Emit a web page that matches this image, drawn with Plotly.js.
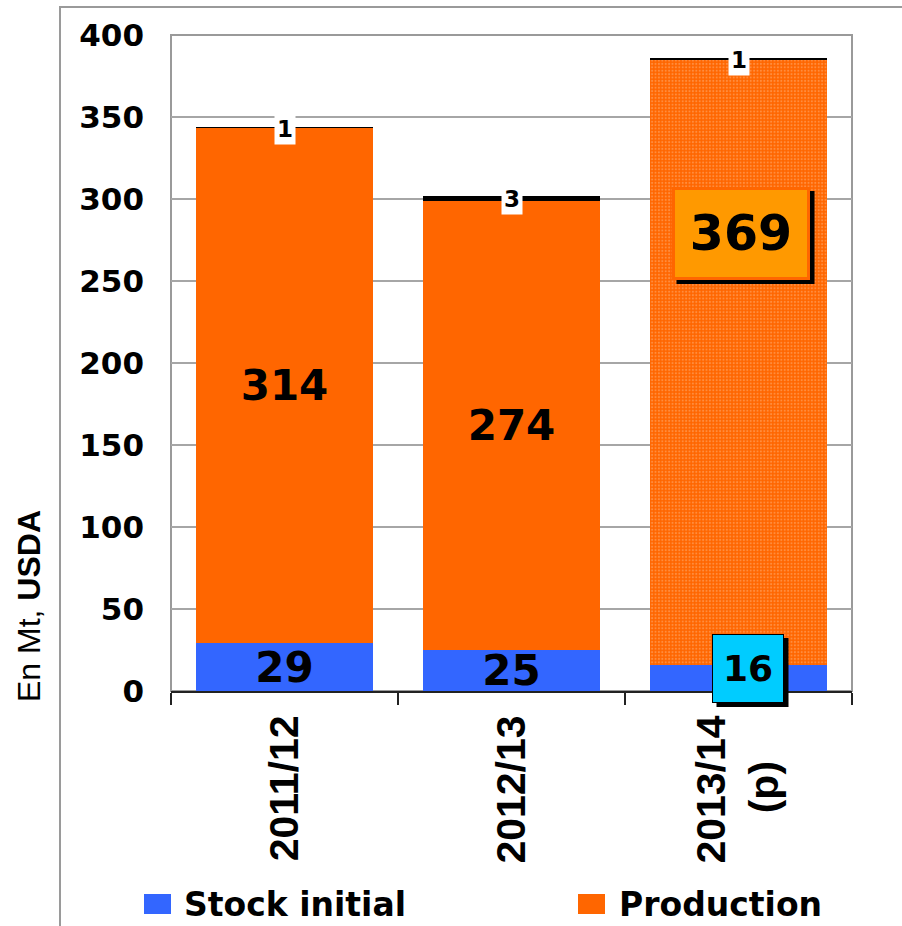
<!DOCTYPE html>
<html>
<head>
<meta charset="utf-8">
<script src="https://cdn.plot.ly/plotly-3.0.1.min.js"></script>
<style>
html,body{margin:0;padding:0;background:#fff;}
#chart{width:902px;height:926px;}
</style>
</head>
<body>
<div id="chart"></div>
<script>
// ---- data ----
const categories = ['2011/12', '2012/13', '2013/14<br>(p)'];
const stockInitial = [29, 25, 16];
const production = [314, 274, 369];
const importations = [1, 3, 1];
const seriesNames = ['Stock initial', 'Production', 'Importations'];
const yTickValues = [0, 50, 100, 150, 200, 250, 300, 350, 400];
const yRange = [0, 400];

// ---- style ----
const BLUE = '#3366FF', ORANGE = '#FF6600', GRAY = '#9a9a9a';
const boldWide = {family: 'DejaVu Sans', color: '#000', weight: 'bold'};
const barTextFont = Object.assign({size: 42}, boldWide);

const traceStock = {
  type: 'bar', name: seriesNames[0], x: categories, y: stockInitial,
  marker: {color: BLUE},
  text: stockInitial.map((v, i) => i < 2 ? String(v) : ''),
  textposition: 'inside', insidetextanchor: 'middle', textangle: 0,
  constraintext: 'none', textfont: barTextFont,
  showlegend: false, hoverinfo: 'skip'
};
const traceProd = {
  type: 'bar', name: seriesNames[1], x: categories, y: production,
  marker: {
    color: ORANGE,
    pattern: {shape: ['', '', '.'], fillmode: 'overlay', bgcolor: ORANGE,
              fgcolor: '#FFB27A', size: 3.4, solidity: 0.3}
  },
  text: production.map((v, i) => i < 2 ? String(v) : ''),
  textposition: 'inside', insidetextanchor: 'middle', textangle: 0,
  constraintext: 'none', textfont: barTextFont,
  showlegend: false, hoverinfo: 'skip'
};
const traceImp = {
  type: 'bar', name: seriesNames[2], x: categories, y: importations,
  marker: {color: '#000000'},
  showlegend: false, hoverinfo: 'skip'
};

// labels of the thin top segment (white boxes)
const annotations = importations.map((v, i) => ({
  x: categories[i], y: stockInitial[i] + production[i] + v / 2,
  xref: 'x', yref: 'y', text: String(v), showarrow: false,
  bgcolor: '#ffffff', borderpad: 2, yshift: -1,
  font: Object.assign({size: 23}, boldWide)
}));

const shapes = [];
// boxed labels for the forecast year, with a drop shadow drawn as a (non-clipped) paper shape
function boxed(text, catIndex, y, w, h, bg, border, bw, size, xs) {
  const pad = 2;
  const W = w + 2 * pad + 2 * bw, H = h + 2 * pad + 2 * bw;
  shapes.push({type: 'rect', xref: 'paper', yref: 'paper',
    xsizemode: 'pixel', ysizemode: 'pixel',
    xanchor: (catIndex + 0.5) / categories.length,
    yanchor: (y - yRange[0]) / (yRange[1] - yRange[0]),
    x0: xs - W / 2 + 5, x1: xs + W / 2 + 5, y0: -H / 2 - 4, y1: H / 2 - 4,
    fillcolor: '#000', line: {width: 0}, layer: 'above'});
  annotations.push({x: categories[catIndex], y: y, xref: 'x', yref: 'y', text: text,
    showarrow: false, width: w, height: h, borderpad: pad, borderwidth: bw,
    bgcolor: bg, bordercolor: border, xshift: xs,
    font: Object.assign({size: size}, boldWide)});
}
boxed(String(production[2]), 2, 279, 128, 83, '#FF9900', ORANGE, 3, 49, 2);
boxed(String(stockInitial[2]), 2, 13.7, 66, 63, '#00CCFF', '#000', 1, 36, 9);

// y axis title (part regular, part bold)
annotations.push({
  xref: 'paper', yref: 'paper', x: -0.2085, y: 0.1296, xanchor: 'center', yanchor: 'middle',
  textangle: -90, showarrow: false, text: 'En Mt, <b>USDA</b>',
  font: {family: 'Liberation Sans', size: 32, color: '#000'}
});

// custom legend
const L = 171, T = 35, PW = 681, PH = 656;
const px = v => (v - L) / PW, py = v => (T + PH - v) / PH;
const legendItems = [
  {name: seriesNames[0], color: BLUE, sx: 144, tx: 182},
  {name: seriesNames[1], color: ORANGE, sx: 578, tx: 617}
];
legendItems.forEach(it => {
  shapes.push({type: 'rect', xref: 'paper', yref: 'paper',
    x0: px(it.sx), x1: px(it.sx + 27), y0: py(914), y1: py(894),
    fillcolor: it.color, line: {width: 0}});
  annotations.push({xref: 'paper', yref: 'paper', x: px(it.tx), y: py(904),
    xanchor: 'left', yanchor: 'middle', showarrow: false, text: it.name,
    font: Object.assign({size: 33}, boldWide)});
});
// plot frame
shapes.push({type: 'rect', xref: 'paper', yref: 'paper', x0: 0, x1: 1, y0: 0, y1: 1,
  line: {color: GRAY, width: 2}, layer: 'below'});
// outer chart frame (top and left edges)
shapes.push({type: 'path', xref: 'paper', yref: 'paper',
  path: `M ${px(60)} ${py(930)} L ${px(60)} ${py(7)} L ${px(905)} ${py(7)}`,
  line: {color: GRAY, width: 2}});

// tick text: centre the short "(p)" line under the rotated year label
const tickText = categories.map(c => c.replace('(p)', '(p)' + '\u00A0'.repeat(4)));

const layout = {
  width: 902, height: 926,
  margin: {l: L, r: 902 - L - PW, t: T, b: 926 - T - PH, pad: 0},
  paper_bgcolor: '#fff', plot_bgcolor: '#fff',
  barmode: 'stack', bargap: 0.22,
  showlegend: false,
  xaxis: {
    type: 'category', tickangle: -90,
    tickmode: 'array', tickvals: categories, ticktext: tickText,
    tickfont: {family: 'Liberation Sans', size: 41, color: '#000', weight: 'bold'},
    ticks: 'outside', tickson: 'boundaries', ticklen: 12, tickwidth: 2, tickcolor: '#222',
    showline: true, linecolor: '#222', linewidth: 2, showgrid: false,
    ticklabelstandoff: 6
  },
  yaxis: {
    range: yRange, tickvals: yTickValues, ticks: '',
    tickfont: Object.assign({size: 31}, boldWide),
    showgrid: true, gridcolor: '#a6a6a6', gridwidth: 1.2,
    zeroline: false, showline: false, ticklabelstandoff: 26
  },
  annotations: annotations,
  shapes: shapes
};

Plotly.newPlot('chart', [traceStock, traceProd, traceImp], layout, {staticPlot: true, displayModeBar: false});
</script>
</body>
</html>
